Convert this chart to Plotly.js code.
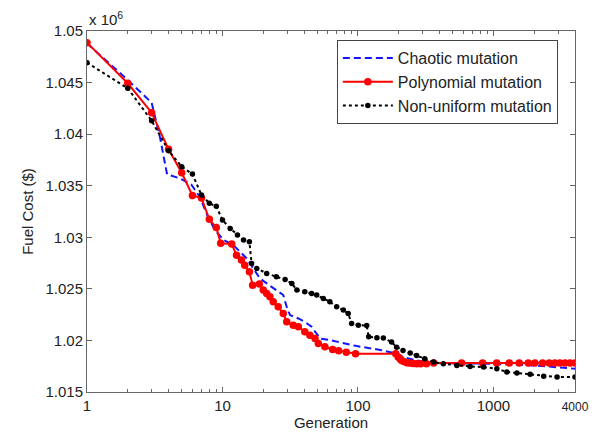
<!DOCTYPE html>
<html>
<head>
<meta charset="utf-8">
<script src="https://cdn.plot.ly/plotly-3.0.1.min.js"></script>
<style>html,body{margin:0;padding:0;background:#fff;}#chart{width:604px;height:432px;}</style>
</head>
<body>
<div id="chart"></div>
<script>
// Generation (log scale) and fuel cost (in units of 10^6 $)
const chaoticX = [1, 2, 3, 3.45, 3.9, 4.86, 5.9, 6.8, 7.8, 8.8, 10.2, 12, 13.5, 15.1, 16.9, 18.9, 21.2, 25.1, 28.1, 29.8, 31.5, 36.3, 40.5, 45.5, 52.5, 62, 78, 98, 146, 193, 215, 260, 362, 942, 1977, 4000];
const chaoticY = [1.0488, 1.04525, 1.04305, 1.03975, 1.0361, 1.03571, 1.0351, 1.0339, 1.0320, 1.0307, 1.02973, 1.02924, 1.0286, 1.02795, 1.02698, 1.02601, 1.02553, 1.02488, 1.0244, 1.02326, 1.02246, 1.02213, 1.0218, 1.02132, 1.02019, 1.02003, 1.01977, 1.01945, 1.01908, 1.01871, 1.01839, 1.0181, 1.0178, 1.01774, 1.01758, 1.01726];

const polyX = [1, 2, 3, 4, 5, 6, 7, 8, 9, 9.7, 11.7, 12.7, 13.8, 14.6, 15.8, 16.7, 18.7, 20, 21.2, 22.4, 23.7, 25.8, 28.1, 29.8, 33.3, 36.3, 40.5, 44.2, 48.2, 51, 57, 65, 72, 82, 96, 190, 198, 205, 210, 218, 229, 240, 255, 271, 290, 320, 362, 582, 832, 1057, 1309, 1549, 1807, 2023, 2306, 2582, 2844, 3097, 3373, 3673, 4000];
const polyY = [1.04887, 1.04493, 1.04208, 1.03853, 1.03626, 1.03406, 1.0338, 1.03174, 1.03096, 1.02941, 1.02934, 1.02827, 1.02779, 1.0273, 1.02665, 1.02536, 1.02546, 1.02488, 1.02456, 1.02423, 1.02374, 1.02326, 1.0226, 1.0218, 1.02148, 1.02132, 1.02083, 1.02051, 1.02019, 1.0197, 1.01938, 1.01912, 1.019, 1.01886, 1.01872, 1.0187, 1.01839, 1.0182, 1.01806, 1.01795, 1.01784, 1.0178, 1.01776, 1.01774, 1.01774, 1.01774, 1.0178, 1.0178, 1.0178, 1.0178, 1.0178, 1.0178, 1.0178, 1.0178, 1.0178, 1.0178, 1.0178, 1.0178, 1.0178, 1.0178, 1.0178];

const nonUniX = [1, 2, 3, 4, 5, 6, 7, 8, 9, 10, 11.4, 12.9, 14.3, 15.8, 16.4, 17.9, 21.2, 25, 29, 32.5, 35.4, 40.5, 45.5, 49.6, 55.5, 62, 69.6, 78, 84.7, 89.8, 100.6, 116, 120, 138, 154, 177, 193, 215, 243, 271, 311, 362, 427, 537, 673, 846, 1060, 1256, 1490, 1867, 2350, 2950, 4000];
const nonUniY = [1.04693, 1.04444, 1.0413, 1.0384, 1.03684, 1.03613, 1.0341, 1.0333, 1.0330, 1.03167, 1.03086, 1.03021, 1.02973, 1.02956, 1.02746, 1.02698, 1.0265, 1.02617, 1.0259, 1.02553, 1.02488, 1.02471, 1.02456, 1.0244, 1.02407, 1.02374, 1.02326, 1.02294, 1.0226, 1.02164, 1.02148, 1.02145, 1.02035, 1.02026, 1.02023, 1.01984, 1.01935, 1.01903, 1.01877, 1.01855, 1.01823, 1.0179, 1.01774, 1.01758, 1.01748, 1.01742, 1.01726, 1.01694, 1.01684, 1.01671, 1.01652, 1.01645, 1.01645];

const seriesNames = ['Chaotic mutation', 'Polynomial mutation', 'Non-uniform mutation'];
const xTickVals = [1, 10, 100, 1000, 4000];
const xTickText = ['1', '10', '100', '1000', '<span style="font-size:12px">4000</span>'];
const xMinorVals = [2,3,4,5,6,7,8,9,20,30,40,50,60,70,80,90,200,300,400,500,600,700,800,900,2000,3000];

const FONT = 'Arial, "Liberation Sans", sans-serif';

const traces = [
  {x: chaoticX, y: chaoticY, name: seriesNames[0], mode: 'lines', type: 'scatter',
   line: {color: '#1414ff', width: 2, dash: '7px,4px'}},
  {x: polyX, y: polyY, name: seriesNames[1], mode: 'lines+markers', type: 'scatter',
   line: {color: '#ff0000', width: 2}, marker: {color: '#ff0000', size: 7.5, symbol: 'circle'}},
  {x: nonUniX, y: nonUniY, name: seriesNames[2], mode: 'lines+markers', type: 'scatter',
   line: {color: '#000000', width: 2, dash: 'dot'}, marker: {color: '#000000', size: 5.5, symbol: 'circle'}}
];

const layout = {
  width: 604, height: 432,
  margin: {l: 87, r: 29, t: 31, b: 40},
  paper_bgcolor: '#fff', plot_bgcolor: '#fff',
  font: {family: FONT, size: 15, color: '#222'},
  showlegend: true,
  legend: {x: 0.512, y: 0.975, xanchor: 'left', yanchor: 'top', bgcolor: '#fff',
           bordercolor: '#444', borderwidth: 1, font: {family: FONT, size: 16, color: '#222'},
           itemwidth: 50, tracegroupgap: 0},
  xaxis: {
    type: 'log', range: [0, Math.log10(4000)],
    tickmode: 'array', tickvals: xTickVals, ticktext: xTickText,
    ticks: 'inside', ticklen: 5, tickcolor: '#666',
    minor: {ticks: 'inside', ticklen: 3, tickcolor: '#666', tickmode: 'array', tickvals: xMinorVals, showgrid: false},
    showline: true, linecolor: '#666', linewidth: 1, mirror: 'ticks',
    showgrid: false, zeroline: false,
    tickfont: {family: FONT, size: 15, color: '#222'},
    title: {text: 'Generation', font: {family: FONT, size: 15, color: '#222'}, standoff: 4}
  },
  yaxis: {
    range: [1.015, 1.05], dtick: 0.005, tick0: 1.015, tickformat: '.3~f',
    ticks: 'inside', ticklen: 5, tickcolor: '#666',
    showline: true, linecolor: '#666', linewidth: 1, mirror: 'ticks',
    showgrid: false, zeroline: false,
    tickfont: {family: FONT, size: 15, color: '#222'},
    title: {text: 'Fuel Cost ($)', font: {family: FONT, size: 15, color: '#222'}, standoff: 8}
  },
  annotations: [{
    xref: 'paper', yref: 'paper', x: 0, y: 1, xanchor: 'left', yanchor: 'bottom',
    text: 'x 10<sup>6</sup>', showarrow: false, font: {family: FONT, size: 15, color: '#222'}, yshift: 1
  }]
};

Plotly.newPlot('chart', traces, layout, {staticPlot: true, displayModeBar: false});
</script>
</body>
</html>
